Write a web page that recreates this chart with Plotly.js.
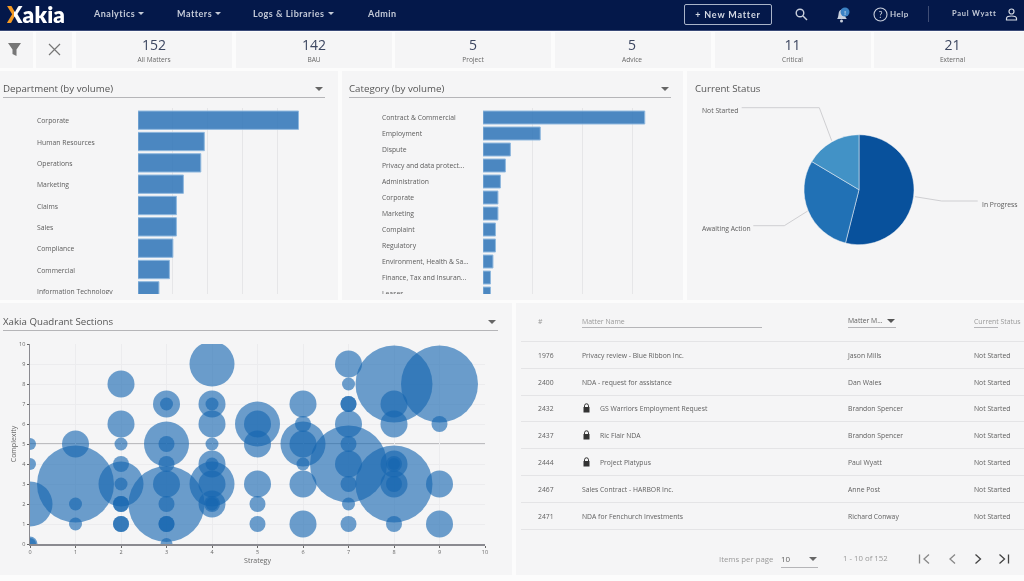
<!DOCTYPE html>
<html><head><meta charset="utf-8"><title>Xakia dashboard</title>
<script src="https://cdn.plot.ly/plotly-3.0.1.min.js"></script>
<style>
html,body{margin:0;padding:0;width:1024px;height:581px;overflow:hidden;background:#fcfcfc;font-family:"Open Sans",sans-serif;color:#555}
#root{position:absolute;left:0;top:0;width:1024px;height:581px;filter:blur(.35px)}
.a{position:absolute;white-space:nowrap}
.box{position:absolute;background:#f5f5f6}
.nav{position:absolute;left:0;top:0;width:1024px;height:30px;background:#04184a;border-bottom:1px solid #3a4a78}
.n{position:absolute;top:8px;font:700 9px/12px Lato,sans-serif;letter-spacing:.5px;color:#c4cad8;white-space:nowrap}
.car{display:inline-block;width:0;height:0;border-left:3px solid transparent;border-right:3px solid transparent;border-top:3px solid currentColor;margin-left:3px;vertical-align:2px}
.num{position:absolute;font-size:14px;line-height:16px;color:#3c4660;transform:translateX(-50%);top:37px}
.lab{position:absolute;font-size:6.6px;line-height:9px;color:#666;transform:translateX(-50%);top:55px}
.h{position:absolute;font-size:9.7px;line-height:14px;color:#555;white-space:nowrap}
.ul{position:absolute;height:1px;background:#b5b5b8}
.tri{position:absolute;width:0;height:0;border-left:4px solid transparent;border-right:4px solid transparent;border-top:4px solid #666}
.t{position:absolute;font-size:6.8px;line-height:10px;color:#5f5f5f;white-space:nowrap}
.th{position:absolute;font-size:6.9px;line-height:10px;color:#999;white-space:nowrap}
.rl{position:absolute;left:521px;width:503px;height:1px;background:#e4e4e6}
.p{position:absolute}
</style></head><body>
<div id="root"></div>
<script>
// ---------- chart data ----------
const deptNames = ["Corporate","Human Resources","Operations","Marketing","Claims","Sales","Compliance","Commercial","Information Technology"];
const deptValues = [46,19,18,13,11,11,10,9,6];
const catNames = ["Contract & Commercial","Employment","Dispute","Privacy and data protect...","Administration","Corporate","Marketing","Complaint","Regulatory","Environment, Health & Sa...","Finance, Tax and Insuran...","Leases"];
const catValues = [65,23,11,9,7,6,6,5,5,4,3,3];
const statusNames = ["In Progress","Awaiting Action","Not Started"];
const statusValues = [82,45,25];
const statusColors = ["#08519c","#2171b5","#4292c6"];
const bubbleX = [0,0,0,0,0, 1,1,1,1, 2,2,2,2,2,2,2,2,2,2, 3,3,3,3,3,3,3,3,3,3,3, 4,4,4,4,4,4,4,4,4,4,4,4, 5,5,5,5,5,5, 6,6,6,6,6,6,6, 7,7,7,7,7,7,7,7,7,7,7, 8,8,8,8,8,8,8,8,8,8, 9,9,9,9];
const bubbleY = [5,4,2,0,0, 5,3,2,1, 8,6,5,4,3,3,2,2,1,1, 7,7,5,5,4,3,2,2,1,1,0, 9,7,7,6,5,4,4,3,3,2,2,2, 6,6,5,3,2,1, 7,6,5,5,4,3,1, 9,8,7,7,6,5,4,4,3,2,1, 8,7,6,4,4,4,3,3,3,1, 8,6,3,1];
const bubbleD = [12,12,45,15,12, 27,77,13,13, 27,27,13,16,45,13,16,16,16,16, 27,13,45,16,16,27,76,16,16,16,12, 45,27,13,27,13,27,13,45,27,27,16,13, 45,27,27,27,16,16, 27,16,45,27,13,27,27, 27,13,16,16,27,16,77,27,16,13,16, 77,27,27,27,16,12,77,27,16,16, 77,16,27,27];
const xTicks = [0,1,2,3,4,5,6,7,8,9,10];
// ---------- table & header text ----------
const tileValues = ["152","142","5","5","11","21"];
const tileLabels = ["All Matters","BAU","Project","Advice","Critical","External"];
const matterIds = ["1976","2400","2432","2437","2444","2467","2471"];
const matterNames = ["Privacy review - Blue Ribbon Inc.","NDA - request for assistance","GS Warriors Employment Request","Ric Flair NDA","Project Platypus","Sales Contract - HARBOR Inc.","NDA for Fenchurch Investments"];
const matterLocked = [0,0,1,1,1,0,0];
const matterManagers = ["Jason Mills","Dan Wales","Brandon Spencer","Brandon Spencer","Paul Wyatt","Anne Post","Richard Conway"];
const matterStatus = ["Not Started","Not Started","Not Started","Not Started","Not Started","Not Started","Not Started"];

const root = document.getElementById('root');
function add(html){ root.insertAdjacentHTML('beforeend', html); }
function box(x,y,w,h){ add(`<div class="box" style="left:${x}px;top:${y}px;width:${w}px;height:${h}px"></div>`); }

// panels
box(0,32,33,36); box(36,32,36,36);
[[76,156],[236,156],[395,156],[555,156],[715,156],[874,150]].forEach(b=>box(b[0],32,b[1],36));
box(0,71,338,229); box(342,71,341,229); box(687,71,337,229);
box(0,303,512,272); box(516,303,508,272);

// nav
add(`<div class="nav"></div>
<div class="a" style="left:7px;top:2px;font:800 22.500px/26px Lato,sans-serif;color:#fff;letter-spacing:.2px"><span style="background:linear-gradient(90deg,#f59a23 0,#f59a23 46%,#fff 46%);-webkit-background-clip:text;background-clip:text;color:transparent">X</span>akia</div>
<div class="n" style="left:94px">Analytics<span class="car"></span></div>
<div class="n" style="left:177px">Matters<span class="car"></span></div>
<div class="n" style="left:253px">Logs &amp; Libraries<span class="car"></span></div>
<div class="n" style="left:368px">Admin</div>
<div class="a" style="left:684px;top:4px;width:86px;height:19px;border:1px solid #a9b3c8;border-radius:2px;font:700 9px/19px Lato,sans-serif;letter-spacing:.8px;color:#d4d9e4;text-align:center">+ New Matter</div>
<svg class="a" style="left:795px;top:8px" width="13" height="13" viewBox="0 0 13 13" fill="none" stroke="#c9cfdc" stroke-width="1.4"><circle cx="5" cy="5" r="3.8"/><path d="M8 8l4 4"/></svg>
<svg class="a" style="left:835px;top:6px" width="16" height="18" viewBox="0 0 16 18"><path d="M2 13c2-2 1-6 2.500-8s4-2 5 0 0 6 2.500 8z" fill="#c9cfdc"/><circle cx="6.500" cy="15" r="1.500" fill="#c9cfdc"/><circle cx="10" cy="6" r="4.500" fill="#3b82c4"/><text x="10" y="8.500" font-size="6" fill="#fff" text-anchor="middle" font-family="Lato">!</text></svg>
<svg class="a" style="left:873px;top:7px" width="15" height="15" viewBox="0 0 15 15" fill="none" stroke="#c9cfdc" stroke-width="1.1"><circle cx="7.500" cy="7.500" r="6.500"/><text x="7.500" y="10.500" font-size="9" fill="#c9cfdc" stroke="none" text-anchor="middle" font-family="Lato">?</text></svg>
<div class="n" style="left:890px;font-size:8px">Help</div>
<div class="a" style="left:928px;top:6px;width:1px;height:16px;background:#3f4d75"></div>
<div class="n" style="left:952px;font-size:7.500px;letter-spacing:.75px">Paul Wyatt</div>
<svg class="a" style="left:1005px;top:8px" width="13" height="13" viewBox="0 0 13 13" fill="none" stroke="#d4d9e4" stroke-width="1.2"><circle cx="6.500" cy="3.500" r="2.500"/><path d="M1.500 12v-1.500c0-2 2-2.500 5-2.500s5 .5 5 2.500V12z"/></svg>
<svg class="a" style="left:7px;top:42px" width="15" height="15" viewBox="0 0 15 15"><path d="M1 1h13L9.500 7.500V14l-4-2V7.500z" fill="#777"/></svg>
<svg class="a" style="left:48px;top:43px" width="13" height="13" viewBox="0 0 13 13" stroke="#777" stroke-width="1.2"><path d="M1 1l11 11M12 1L1 12"/></svg>`);

// tiles
[154,314,473,632,792.5,952.5].forEach((c,i)=>{
  add(`<div class="num" style="left:${c}px">${tileValues[i]}</div><div class="lab" style="left:${c}px">${tileLabels[i]}</div>`);
});

// panel headers
function head(txt,x,y,x2){
  add(`<div class="h" style="left:${x}px;top:${y-6}px">${txt}</div>`);
  if(x2){ add(`<div class="ul" style="left:${x}px;top:${y+9}px;width:${x2-x}px"></div><div class="tri" style="left:${x2-10}px;top:${y-1}px"></div>`); }
}
head("Department (by volume)",3,88,325);
head("Category (by volume)",349,88,671);
head("Current Status",695,88,0);
head("Xakia Quadrant Sections",3,321,498);

// table
const rowY=[355.5,382.5,409,436,463,490,516.5];
const lineY=[341,368,395,421,448,475,502,529];
lineY.forEach(y=>add(`<div class="rl" style="top:${y}px"></div>`));
add(`<div class="th" style="left:538px;top:317px">#</div>
<div class="th" style="left:582px;top:317px">Matter Name</div><div class="ul" style="left:582px;top:327px;width:180px"></div>
<div class="t" style="left:848px;top:316px">Matter M...</div><div class="ul" style="left:848px;top:327px;width:48px"></div><div class="tri" style="left:887px;top:319px;border-top-color:#555"></div>
<div class="th" style="left:974px;top:317px">Current Status</div><div class="ul" style="left:974px;top:327px;width:24px"></div>`);
matterIds.forEach((id,i)=>{
  const y=rowY[i]-5;
  add(`<div class="t" style="left:538px;top:${y}px">${id}</div>`);
  if(matterLocked[i]){
    add(`<svg class="a" style="left:583px;top:${y-1}px" width="7" height="10" viewBox="0 0 7 10"><path d="M1.500 4V2.800a2 2 0 014 0V4" fill="none" stroke="#333" stroke-width="1"/><rect x=".5" y="4" width="6" height="5.500" fill="#333"/></svg>`);
    add(`<div class="t" style="left:600px;top:${y}px">${matterNames[i]}</div>`);
  } else add(`<div class="t" style="left:582px;top:${y}px">${matterNames[i]}</div>`);
  add(`<div class="t" style="left:848px;top:${y}px">${matterManagers[i]}</div><div class="t" style="left:974px;top:${y}px">${matterStatus[i]}</div>`);
});
add(`<div class="th" style="left:719px;top:554px;font-size:7.800px">Items per page</div>
<div class="t" style="left:781px;top:554px;font-size:8px">10</div><div class="tri" style="left:809px;top:557px"></div><div class="ul" style="left:781px;top:567px;width:37px"></div>
<div class="th" style="left:843px;top:553px;font-size:7.800px">1 - 10 of 152</div>
<svg class="a" style="left:918px;top:553px" width="100" height="13" viewBox="0 0 100 13" fill="none" stroke-width="1.3"><path d="M1.500 1.500v9M11 1.500L6 6l5 4.500" stroke="#888"/><path d="M37 1.500L32 6l5 4.500" stroke="#888"/><path d="M57.500 1.500L62.500 6l-5 4.500" stroke="#444"/><path d="M81.500 1.500L86.500 6l-5 4.500M90.500 1.500v9" stroke="#444"/></svg>`);

// plot holders
function holder(id,x,y,w,h){ add(`<div id="${id}" class="p" style="left:${x}px;top:${y}px;width:${w}px;height:${h}px"></div>`); return document.getElementById(id); }
const cfg={staticPlot:true,displayModeBar:false,responsive:false};
const FONT='"Open Sans", sans-serif';

function hbar(id,x,y,w,h,ml,mr,mt,names,vals,xmax,dtick,barW,yr,labelX,ys){
  const plotW=w-ml-mr;
  Plotly.newPlot(holder(id,x,y,w,h),[{type:'bar',orientation:'h',y:names,x:vals,width:barW,
    marker:{color:'rgba(46,117,184,0.86)',line:{color:'#8fb8de',width:1}},cliponaxis:true,hoverinfo:'skip'}],
  {width:w,height:h,margin:{l:ml,r:mr,t:mt,b:0,pad:0},paper_bgcolor:'rgba(0,0,0,0)',plot_bgcolor:'rgba(0,0,0,0)',showlegend:false,
   xaxis:{range:[0,xmax],tick0:0,dtick:dtick,showgrid:true,gridcolor:'#e6e6e8',gridwidth:1,zeroline:false,showticklabels:false,ticks:'',showline:false},
   yaxis:{type:'category',categoryorder:'array',categoryarray:names,range:yr,showgrid:false,zeroline:false,showticklabels:false,ticks:'',showline:false},
   annotations:names.map(n=>({xref:'paper',yref:'y',x:(labelX-ml)/plotW,y:n,text:n,showarrow:false,xanchor:'left',yanchor:'middle',yshift:ys,font:{family:FONT,size:6.8,color:'#5c5c5c'}}))
  },cfg);
}
hbar('dept',0,100,338,194,137.5,33,8,deptNames,deptValues,47.86,10,0.86,[8.148,-0.572],34.5,-0.5);
hbar('cat',342,100,341,194,141.3,37,8,catNames,catValues,65.5,20,0.81,[11.03,-0.594],38,0);

// pie: centre (859,189.7) r 55, holder spans panel
const pw=337,ph=229,px=687,py=71;
const cx=859,cy=189.7,r=55;
function P(xx,yy){ return [(xx-px)/pw, 1-(yy-py)/ph]; }
function path(pts){ return 'M'+pts.map(p=>{const q=P(p[0],p[1]);return q[0]+','+q[1];}).join('L'); }
const leader=[[[741.7,107.7],[819.3,107.7],[831.7,140.7]],[[753.3,225.7],[784.3,225.7],[807.7,211]],[[915,196.7],[941.7,201],[977.7,201]]];
Plotly.newPlot(holder('pie',px,py,pw,ph),[{type:'pie',labels:statusNames,values:statusValues,sort:false,direction:'clockwise',rotation:0,
  marker:{colors:statusColors,line:{color:'#f5f5f6',width:0.5}},textinfo:'none',hoverinfo:'skip',
  domain:{x:[(cx-r-px)/pw,(cx+r-px)/pw],y:[1-(cy+r-py)/ph,1-(cy-r-py)/ph]}}],
 {width:pw,height:ph,margin:{l:0,r:0,t:0,b:0},paper_bgcolor:'rgba(0,0,0,0)',showlegend:false,
  shapes:leader.map(l=>({type:'path',xref:'paper',yref:'paper',path:path(l),line:{color:'#cfcfd2',width:1}})),
  annotations:[[699.5,110,statusNames[2]],[699.5,228,statusNames[1]],[979.5,204,statusNames[0]]].map(a=>{const q=P(a[0],a[1]);return {xref:'paper',yref:'paper',x:q[0],y:q[1],text:a[2],showarrow:false,xanchor:'left',yanchor:'middle',font:{family:FONT,size:6.8,color:'#5c5c5c'}};})
 },cfg);

// bubble
Plotly.newPlot(holder('bub',0,335,512,237),[{type:'scatter',mode:'markers',x:bubbleX,y:bubbleY,cliponaxis:true,hoverinfo:'skip',
   marker:{size:bubbleD,sizemode:'diameter',opacity:1,color:'rgba(21,101,176,0.62)',line:{width:0}}}],
 {width:512,height:237,margin:{l:30,r:27.3,t:9,b:28.3,pad:0},paper_bgcolor:'rgba(0,0,0,0)',plot_bgcolor:'rgba(0,0,0,0)',showlegend:false,
  xaxis:{range:[0,10],tickmode:'array',tickvals:xTicks,ticks:'outside',ticklen:2,tickwidth:1,tickcolor:'#666',showline:true,linecolor:'#8a8a90',linewidth:1.5,showgrid:true,gridcolor:'#ececee',zeroline:false,
     tickfont:{family:FONT,size:5.5,color:'#666'},title:{text:'Strategy',font:{family:FONT,size:7,color:'#666'},standoff:3}},
  yaxis:{range:[0,10],tickmode:'array',tickvals:xTicks,ticks:'outside',ticklen:2,tickwidth:1,tickcolor:'#666',showline:true,linecolor:'#8a8a90',linewidth:1.5,showgrid:true,gridcolor:'#ececee',zeroline:false,
     tickfont:{family:FONT,size:5.5,color:'#666'},title:{text:'Complexity',font:{family:FONT,size:7,color:'#666'},standoff:1}},
  shapes:[{type:'line',xref:'x',yref:'y',x0:5,x1:5,y0:0,y1:10,line:{color:'#85858a',width:1},layer:'below'},
          {type:'line',xref:'x',yref:'y',x0:0,x1:10,y0:5,y1:5,line:{color:'#85858a',width:1},layer:'below'}]
 },cfg);
</script>
</body></html>
